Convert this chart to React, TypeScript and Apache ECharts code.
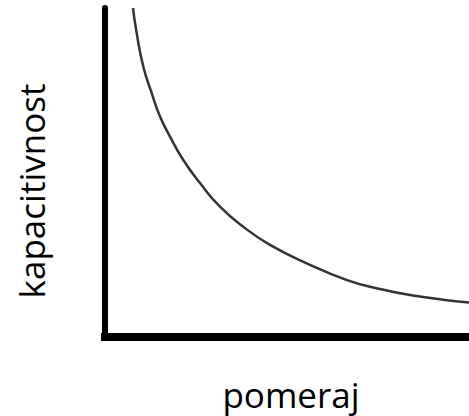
import React, { useEffect, useRef } from "react";
import * as echarts from "echarts";

const xLabel = "pomeraj";
const yLabel = "kapacitivnost";
const xValues = [0.769, 0.871, 1.052, 1.283, 1.511, 1.786, 2.151, 2.61, 3.159, 3.799, 4.533, 5.541, 6.648, 7.555, 8.462, 9.396, 10.0];
const yValues = [10.0, 9.23, 8.22, 7.41, 6.7, 6.09, 5.38, 4.68, 3.96, 3.35, 2.8, 2.24, 1.73, 1.46, 1.26, 1.12, 1.05];

export default function App() {
  const ref = useRef<HTMLDivElement>(null);
  useEffect(() => {
    if (!ref.current) return;
    const chart = echarts.init(ref.current, null, { renderer: "svg" });
    const data = xValues.map((x, i) => [x, yValues[i]]);
    chart.setOption({
      animation: false,
      backgroundColor: "#ffffff",
      grid: { left: 105, right: 0, top: 8, bottom: 79 },
      xAxis: {
        type: "value",
        min: 0,
        max: 10,
        axisLine: { show: true, onZero: false, lineStyle: { color: "#000", width: 8, cap: "square" } },
        axisTick: { show: false },
        axisLabel: { show: false },
        splitLine: { show: false },
      },
      yAxis: {
        type: "value",
        min: 0,
        max: 10,
        axisLine: { show: true, onZero: false, lineStyle: { color: "#000", width: 6 } },
        axisTick: { show: false },
        axisLabel: { show: false },
        splitLine: { show: false },
      },
      graphic: [
        {
          type: "text",
          x: 291,
          y: 394,
          style: {
            text: xLabel,
            font: '35px "Open Sans"',
            fill: "#000",
            align: "center",
            verticalAlign: "middle",
          },
        },
        {
          type: "text",
          x: 31,
          y: 191,
          rotation: Math.PI / 2,
          style: {
            text: yLabel,
            font: '35px "Open Sans"',
            fill: "#000",
            align: "center",
            verticalAlign: "middle",
          },
        },
      ],
      series: [
        {
          type: "line",
          data,
          smooth: 0.5,
          showSymbol: false,
          lineStyle: { color: "#333333", width: 2.5 },
        },
      ],
    });
    return () => chart.dispose();
  }, []);
  return (
    <div
      ref={ref}
      style={{ position: "fixed", left: 0, top: 0, width: 469, height: 416 }}
    />
  );
}
